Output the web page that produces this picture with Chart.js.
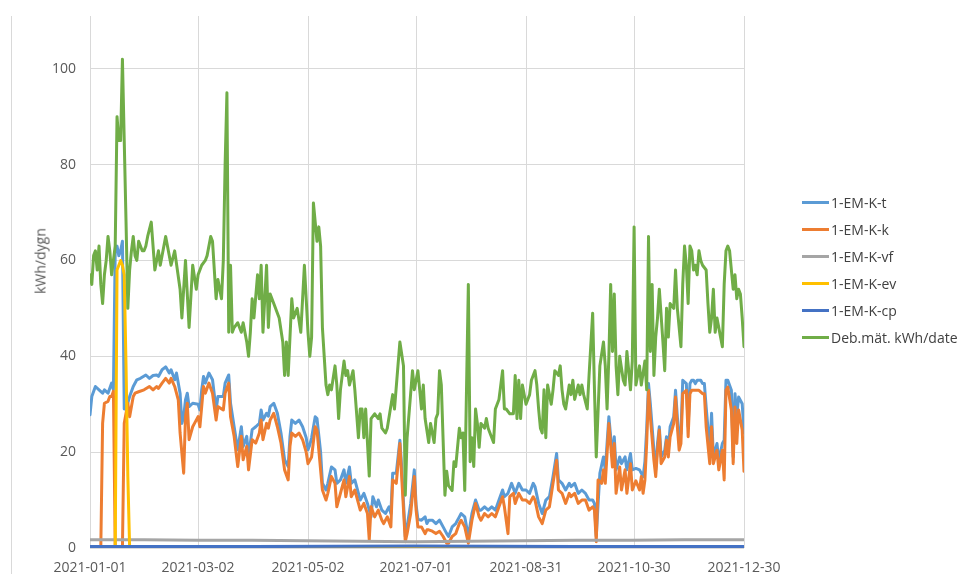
<!DOCTYPE html>
<html>
<head>
<meta charset="utf-8">
<script src="https://cdn.jsdelivr.net/npm/chart.js@4/dist/chart.umd.min.js"></script>
<style>
    html, body { margin: 0; padding: 0; background: #fff; }
    #wrap { position: relative; width: 963px; height: 574px; overflow: hidden; font-family: 'Open Sans', sans-serif; }
    #frame { position: absolute; left: 11px; top: 16px; width: 1px; height: 558px; background: #d9d9d9; }
    #yTitle { position: absolute; left: 40px; top: 261px; transform: translate(-50%, -50%) rotate(-90deg); font-size: 14px; color: #595959; white-space: nowrap; }
    #legend { position: absolute; left: 802px; top: 189px; font-size: 14px; color: #404040; }
    .item { display: flex; align-items: center; height: 27px; }
    .swatch { width: 27px; height: 3px; margin-right: 2px; }
</style>
</head>
<body>
<div id="wrap">
    <canvas id="chart" width="963" height="574"></canvas>
    <div id="frame"></div>
    <div id="yTitle">kWh/dygn</div>
    <div id="legend"></div>
</div>
<script>
// day of year (0 = 2021-01-01) where the date labels sit
const tickDays = [0, 60, 121, 181, 242, 302, 363];
const tickLabels = ['2021-01-01', '2021-03-02', '2021-05-02', '2021-07-01', '2021-08-31', '2021-10-30', '2021-12-30'];
const yTicks = [0, 20, 40, 60, 80, 100];

const seriesNames = ['1-EM-K-t', '1-EM-K-k', '1-EM-K-vf', '1-EM-K-ev', '1-EM-K-cp', 'Deb.mät. kWh/date'];
const seriesColors = ['#5B9BD5', '#ED7D31', '#A5A5A5', '#FFC000', '#4472C4', '#70AD47'];

// [day, kWh]
const emKt = [[0,27.8],[1,31.6],[3,33.7],[5,33],[7,32.3],[8,33],[10,32.3],[12,34.4],[13,33],[14,62],[15,63],[16,61],[17,62],[18,64],[19,29],[20,29],[22,31.6],[24,33.7],[26,35.1],[28,35.4],[31,36.1],[33,35.4],[35,36],[37,36.1],[38,35.8],[40,37.2],[42,37.8],[44,36.5],[45,37.2],[47,35.1],[48,36.5],[50,32.3],[51,26],[52,27.4],[53,30.9],[54,32.3],[55,29.5],[57,30.2],[60,30],[61,28.8],[62,33],[63,35.8],[64,34.4],[66,36.5],[68,35.1],[70,28.8],[71,31.6],[74,31.6],[75,34.4],[77,36.1],[78,30.2],[80,25.3],[82,20.5],[84,25.3],[85,21.2],[87,23.3],[88,19.1],[90,24.7],[92,25.3],[94,26],[95,28.8],[96,26.7],[98,28.1],[99,27.5],[100,29.5],[102,30.2],[104,28.1],[106,24],[108,18.4],[110,17],[111,23.3],[112,26.7],[114,26],[116,26.7],[118,25.3],[120,23],[121,20.5],[122,21.5],[123,23],[125,27.4],[126,27],[127,23.5],[128,20],[129,13.5],[131,12.1],[132,13.5],[134,16.9],[136,16.3],[137,13.5],[139,14.2],[141,16.3],[142,13.5],[144,16.9],[145,13.5],[147,14.2],[149,11.4],[150,10],[152,11.4],[154,9.3],[156,6.5],[157,10.7],[159,8.6],[160,10],[162,7.9],[164,7.2],[166,8.6],[167,7.2],[168,15.6],[170,15.6],[172,22.5],[173,16.9],[175,2.4],[176,4.4],[178,9.3],[180,16.3],[181,9],[182,6],[184,5.8],[186,6.5],[187,5.1],[188,5.8],[190,5.8],[192,5.1],[194,5.8],[196,4.4],[198,3],[199,2.4],[201,4.4],[203,5.1],[205,6.5],[206,7.2],[208,6.5],[210,2.4],[212,7.2],[214,10],[216,7.9],[217,7.9],[219,8.6],[221,7.9],[223,8.6],[225,7.9],[227,10],[229,12.1],[230,10.7],[232,11.4],[234,13.5],[236,11.4],[238,13.5],[240,12.1],[242,12.1],[244,11.4],[246,13.5],[247,12.8],[249,9.3],[251,7.2],[253,10],[255,10.7],[257,14.9],[259,19.7],[260,14.2],[262,13.5],[264,12.1],[266,13.5],[267,12.8],[269,13.5],[271,11.4],[273,12.1],[275,11.4],[277,10],[279,10],[280,9.3],[281,2.4],[283,15.6],[285,19],[286,16.3],[288,27.4],[290,19],[291,23.2],[292,16.3],[294,19],[295,17.6],[297,19],[298,16.3],[300,19.7],[301,16.3],[303,16.6],[305,16.3],[307,14.9],[308,18],[309,25],[310,34.3],[311,30.1],[313,20.4],[314,16.3],[315,21.8],[316,25.3],[317,19],[319,20.4],[320,23.2],[321,20.4],[322,25.3],[324,27.4],[325,32.9],[326,27.4],[327,22.5],[328,23.9],[329,35],[331,34.3],[332,25.3],[333,34.3],[334,35],[335,35],[336,34.3],[337,35],[339,35],[340,34.3],[341,34.3],[342,29.4],[344,20.4],[345,28.1],[346,19],[348,21.8],[349,18.3],[351,21.8],[352,22.5],[353,35],[354,35],[356,32.9],[357,19],[358,32.2],[359,27.4],[360,31.5],[362,30.1],[363,24]];

const emKk = [[0,0],[6,0],[7,26],[8,30.2],[10,30.6],[11,31.6],[12,31.6],[13,32.7],[14,0],[18,0],[19,26],[21,30.2],[22,27.4],[24,31.6],[25,32.3],[27,32.6],[30,33],[33,33.7],[35,33],[37,33.7],[38,33.3],[40,34.4],[42,35.4],[44,34.4],[45,35.4],[47,33.7],[49,30.9],[50,24],[52,15.6],[53,27.4],[54,30.2],[55,22.6],[57,25.3],[58,26],[60,27.4],[61,25.3],[63,33.7],[64,32.3],[66,34.4],[68,32.3],[70,26.7],[71,29.5],[74,28.8],[75,32.3],[77,34.4],[78,27.4],[80,23.3],[82,17],[84,23.3],[85,18.4],[87,21.2],[88,16.3],[90,22.6],[92,21.9],[94,24],[95,26.7],[96,22.6],[98,26],[99,25],[100,26.7],[102,28.1],[104,25.3],[106,21.9],[108,16.3],[110,14.2],[111,21.2],[112,24],[114,23.3],[116,24],[118,22.6],[120,20],[121,17.6],[123,19],[125,25.3],[126,24.6],[127,20.4],[129,12.1],[131,10],[132,11.4],[134,14.9],[136,13.5],[137,8.6],[139,11.4],[141,14.2],[142,10.7],[144,14.9],[145,10.7],[147,12.1],[149,9.3],[150,7.9],[152,9.3],[154,7.2],[155,1.7],[156,8.6],[158,6.5],[160,7.9],[162,5.8],[163,5.1],[165,6.5],[167,4.4],[168,14.2],[170,13.5],[172,21.8],[173,14.9],[175,1.3],[176,3],[178,7.2],[180,14.9],[181,7.9],[182,4.4],[184,4.4],[186,3],[187,3.8],[188,3.8],[190,3.5],[192,3],[194,3.5],[196,2.4],[198,1],[199,1],[201,2.4],[203,3],[205,5.1],[206,5.8],[208,4.4],[210,1],[212,5.8],[214,9.3],[216,6.5],[217,5.8],[219,7.2],[221,6.5],[223,7.2],[225,6.5],[227,8.6],[229,10.7],[230,8.6],[232,3],[233,10.7],[235,11.4],[236,9.3],[238,11.4],[240,10],[242,10],[244,9.3],[246,10.7],[247,10],[249,6.5],[251,5.1],[253,7.9],[255,8.6],[257,13.5],[259,18.3],[260,12.1],[262,11.4],[264,9.3],[266,11.4],[267,10.7],[269,11.4],[271,9.3],[273,10],[275,10],[277,7.9],[279,8.6],[280,7.9],[281,1.3],[282,14.2],[284,13.5],[285,16.3],[286,13.5],[288,26],[290,16.9],[291,21.8],[292,11.4],[294,16.9],[295,12.1],[297,16.3],[298,11.4],[300,17.6],[301,12.1],[303,14],[305,12.1],[306,14.9],[307,11.4],[308,14.2],[309,22],[310,32.9],[311,27.4],[313,18.3],[314,14.9],[315,20.4],[316,24.6],[317,17.6],[319,19],[320,22.5],[321,19],[322,23.2],[324,26],[325,31.5],[326,25.3],[327,20.4],[328,21.8],[329,32.2],[331,32.9],[332,23.2],[333,32.2],[334,32.9],[336,32.9],[338,32.9],[340,32.2],[341,32.2],[342,25.3],[344,17.6],[345,25.3],[346,17.6],[348,20.4],[349,16.3],[351,20.4],[352,14.2],[353,32.9],[354,33.6],[356,28.8],[357,17.6],[358,29.4],[359,21.8],[360,28.8],[362,24.6],[363,16]];

const emKvf = [[0,1.7],[30,1.7],[60,1.6],[90,1.6],[120,1.5],[150,1.4],[180,1.3],[210,1.4],[240,1.5],[270,1.6],[300,1.6],[330,1.7],[363,1.7]];

const emKev = [[0,0],[14,0],[15,58],[16,59],[17,60],[18,59],[19,57],[20,38],[21,15],[22,0],[363,0]];

const emKcp = [[0,0.3],[90,0.3],[180,0.4],[270,0.3],[363,0.3]];

const debMat = [[0,57],[1,55],[2,61],[3,62],[4,58],[5,63],[6,55],[7,51],[8,57],[9,60],[10,65],[11,62],[12,57],[13,60],[14,63],[15,90],[16,85],[17,85],[18,102],[19,85],[20,68],[21,50],[22,58],[23,62],[24,65],[25,61],[26,60],[27,64],[28,63],[29,62],[30,62],[31,63],[32,65],[34,68],[36,58],[38,62],[39,59],[42,65],[45,59],[47,62],[50,54],[51,48],[53,60],[55,46],[57,59],[59,54],[60,57],[62,59],[64,60],[65,61],[67,65],[68,64],[70,52],[71,56],[73,52],[74,60],[75,80],[76,95],[77,45],[78,59],[79,45],[80,46],[82,47],[84,45],[85,47],[87,43],[88,40],[89,45],[90,52],[91,48],[93,57],[94,52],[95,59],[96,45],[97,52],[98,59],[99,46],[100,53],[102,51],[105,48],[107,43],[108,36],[109,43],[110,36],[112,52],[113,48],[115,50],[117,45],[119,59],[121,45],[122,40],[123,44],[124,72],[126,64],[127,67],[128,63],[129,46],[131,34],[132,32],[133,34],[134,33],[136,38],[137,34],[138,27],[139,33],[141,39],[142,36],[143,37],[144,34],[146,37],[147,33],[149,23],[150,29],[151,29],[152,23],[153,29],[155,15],[156,27],[158,28],[160,27],[161,28],[162,25],[164,24],[165,25],[168,32],[169,29],[172,43],[174,38],[175,11],[176,23],[179,37],[180,33],[182,37],[184,29],[185,34],[186,27],[188,22],[189,26],[191,22],[192,27],[193,28],[194,37],[195,34],[197,11],[198,16],[199,13],[201,12],[202,18],[203,17],[205,25],[206,23],[207,24],[208,12],[210,55],[211,18],[212,23],[213,17],[214,29],[215,26],[216,21],[217,26],[219,25],[220,27],[221,25],[223,23],[224,22],[225,29],[227,31],[229,37],[230,29],[231,29],[233,28],[235,28],[236,36],[237,27],[238,35],[239,27],[240,34],[242,30],[244,32],[245,35],[247,37],[248,34],[249,29],[250,25],[251,24],[252,33],[253,23],[254,34],[256,30],[257,33],[258,37],[260,36],[261,38],[262,33],[263,30],[264,29],[266,34],[267,32],[268,35],[269,31],[271,34],[272,32],[273,34],[274,32],[276,29],[277,36],[279,49],[280,33],[281,19],[283,38],[285,43],[286,38],[287,29],[288,40],[289,55],[290,41],[291,53],[292,38],[293,32],[294,40],[296,35],[297,34],[298,41],[300,33],[301,39],[302,67],[303,34],[305,38],[306,34],[308,39],[309,33],[310,65],[311,41],[312,55],[313,36],[314,44],[315,48],[316,54],[318,43],[319,37],[320,50],[321,44],[322,51],[324,50],[325,58],[326,50],[328,42],[329,55],[330,63],[331,59],[332,51],[333,63],[334,62],[335,58],[336,59],[337,57],[338,62],[339,60],[340,59],[342,58],[343,51],[344,45],[345,48],[346,54],[347,45],[348,48],[350,44],[351,42],[352,55],[353,62],[354,63],[355,62],[357,54],[358,57],[359,52],[360,54],[361,53],[362,48],[363,42]];

const allSeries = [emKt, emKk, emKvf, emKev, emKcp, debMat];

class EnergyChartView {

    #canvas;
    #chart;

    constructor(canvas) {
        this.#canvas = canvas;
    }

    displayChart() {
        if (this.#chart != null) {
            this.#chart.destroy();
        }
        this.#chart = new Chart(
            this.#canvas,
            {
                type: 'line',
                data: this.#getData(),
                options: this.#getOptions()
            });
    }

    #getData() {
        return {
            datasets: allSeries.map((series, i) => ({
                label: seriesNames[i],
                data: series.map(([x, y]) => ({ x, y })),
                borderColor: seriesColors[i],
                backgroundColor: seriesColors[i],
                borderWidth: 3,
                pointRadius: 0,
                tension: 0,
                borderJoinStyle: 'round',
                borderCapStyle: 'round',
                // later series are painted on top, as in the original
                order: allSeries.length - 1 - i
            }))
        };
    }

    #getOptions() {
        const tickFont = { family: "'Open Sans', sans-serif", size: 14 };
        return {
            responsive: false,
            animation: false,
            layout: {
                padding: { top: 16, right: 219, bottom: 0, left: 0 }
            },
            plugins: {
                legend: { display: false },
                tooltip: { enabled: false }
            },
            scales: {
                x: {
                    type: 'linear',
                    min: 0,
                    max: 363,
                    afterBuildTicks: scale => {
                        scale.ticks = tickDays.map(v => ({ value: v }));
                    },
                    afterFit: scale => {
                        scale.height = 26;
                    },
                    grid: { color: '#d9d9d9', drawTicks: false },
                    border: { display: false },
                    ticks: {
                        padding: 12,
                        color: '#595959',
                        font: tickFont,
                        maxRotation: 0,
                        autoSkip: false,
                        callback: value => tickLabels[tickDays.indexOf(value)] ?? ''
                    }
                },
                y: {
                    min: 0,
                    max: 111,
                    afterBuildTicks: scale => {
                        scale.ticks = yTicks.map(v => ({ value: v }));
                    },
                    afterFit: scale => {
                        scale.width = 90;
                        // keep the plot top at the layout padding
                        scale.paddingTop = 0;
                        scale.paddingBottom = 0;
                    },
                    grid: { color: '#d9d9d9', drawTicks: false },
                    border: { display: false },
                    ticks: {
                        padding: 14,
                        color: '#595959',
                        font: tickFont
                    }
                }
            }
        };
    }
}

function buildLegend(container) {
    seriesNames.forEach((name, i) => {
        const item = document.createElement('div');
        item.className = 'item';
        const swatch = document.createElement('span');
        swatch.className = 'swatch';
        swatch.style.background = seriesColors[i];
        const text = document.createElement('span');
        text.textContent = name;
        item.appendChild(swatch);
        item.appendChild(text);
        container.appendChild(item);
    });
}

new EnergyChartView(document.getElementById('chart')).displayChart();
buildLegend(document.getElementById('legend'));
</script>
</body>
</html>
